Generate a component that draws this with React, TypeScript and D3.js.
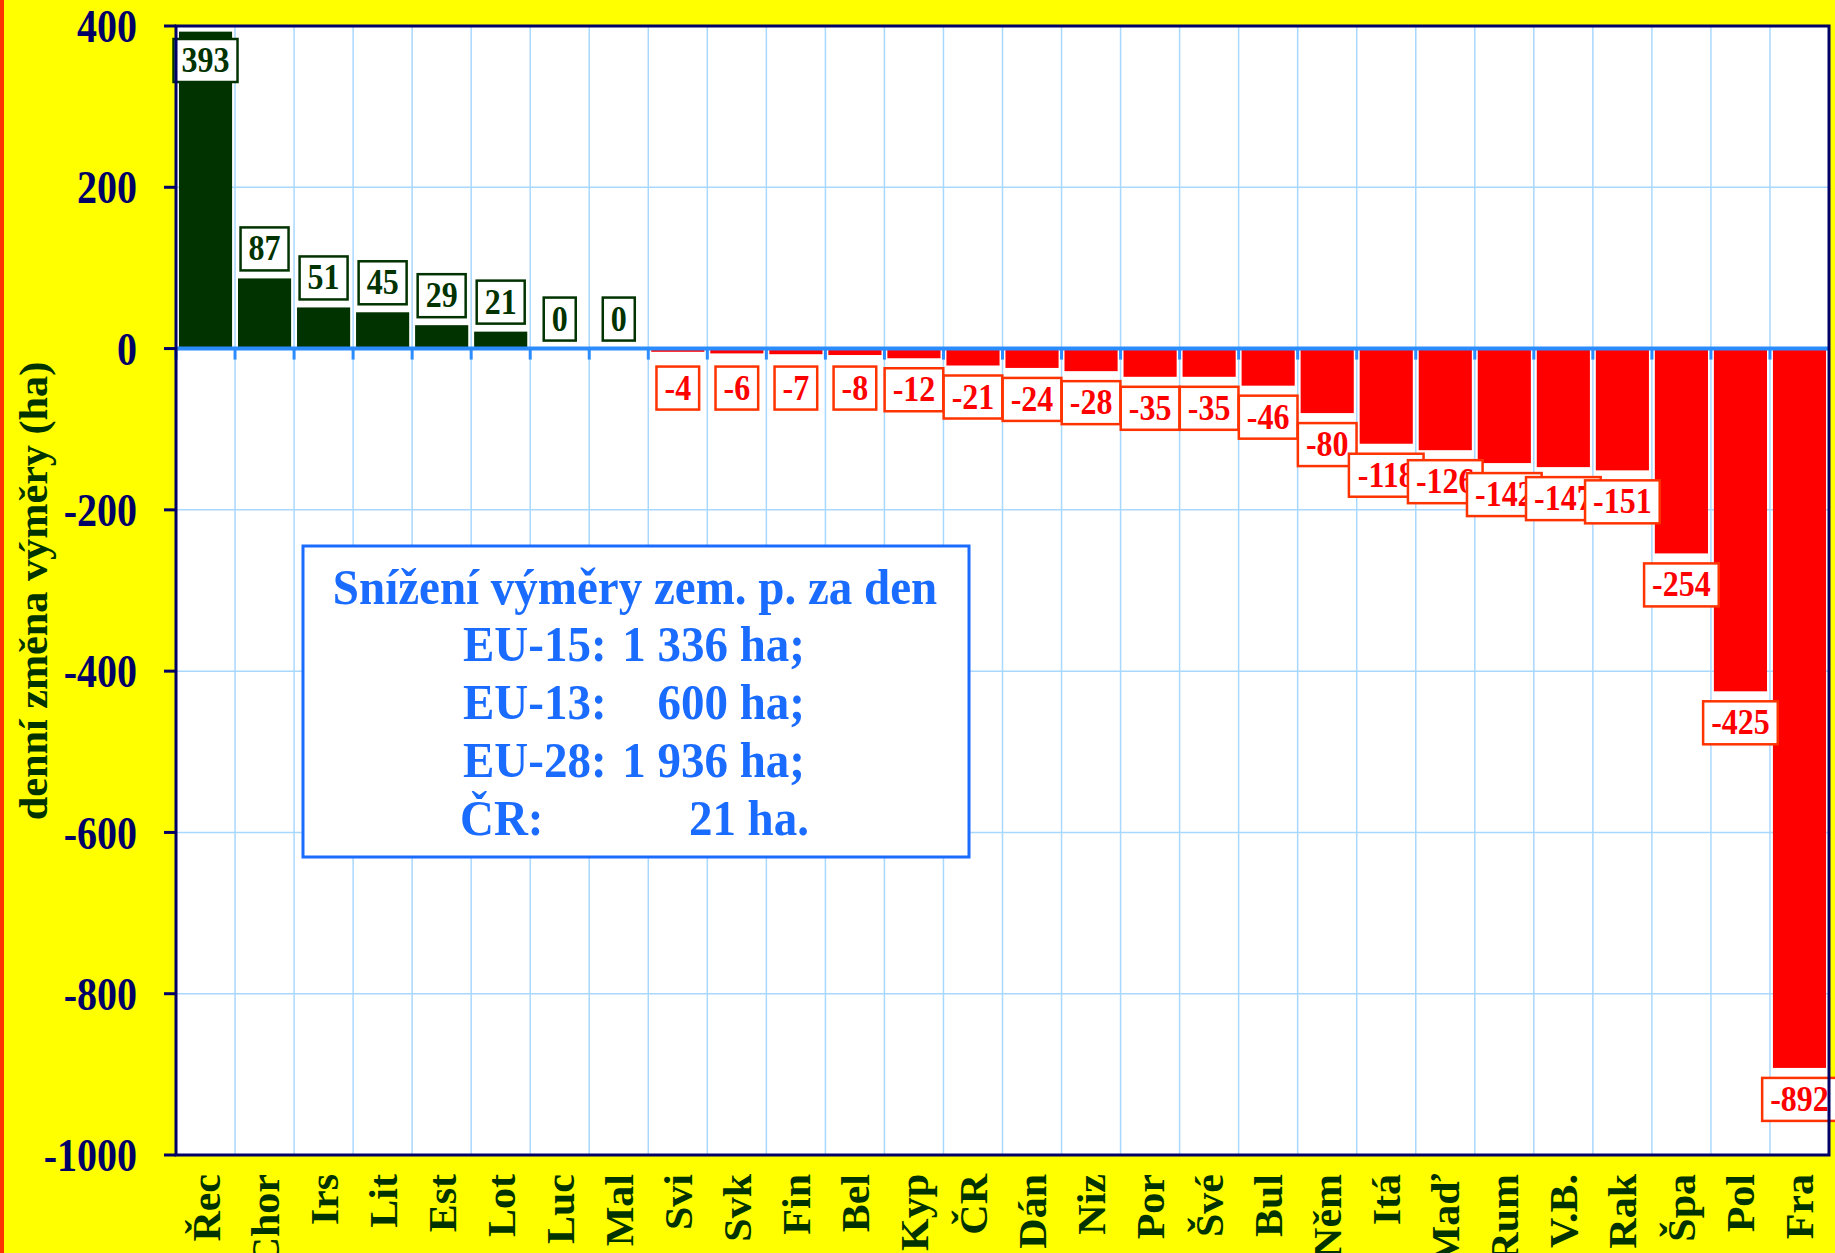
import React from "react";
import * as d3 from "d3";

const categories = ["Řec","Chor","Irs","Lit","Est","Lot","Luc","Mal","Svi","Svk","Fin","Bel","Kyp","ČR","Dán","Niz","Por","Švé","Bul","Něm","Itá","Maď","Rum","V.B.","Rak","Špa","Pol","Fra"];
const values = [393,87,51,45,29,21,0,0,-4,-6,-7,-8,-12,-21,-24,-28,-35,-35,-46,-80,-118,-126,-142,-147,-151,-254,-425,-892];
const yTicks = [400,200,0,-200,-400,-600,-800,-1000];
const yTitle = "denní změna výměry (ha)";
const infoTitle = "Snížení výměry zem. p. za den";
const infoLabels = ["EU-15:","EU-13:","EU-28:","ČR:"];
const infoValues = ["1 336 ha;","600 ha;","1 936 ha;","21 ha."];

const W = 1835, H = 1253;
const L = 176, R = 1829, T = 26, B = 1155;
const FONT = "'Liberation Serif','Times New Roman',serif";
const GREEN = "#003300", RED = "#ff0000", NAVY = "#000066", BLUE = "#1a6bff";

export default function App() {
  const x = d3.scaleBand<string>().domain(categories).range([L, R]).paddingInner(0.1).paddingOuter(0.05);
  const xb = d3.scaleLinear().domain([0, categories.length]).range([L, R]);
  const y = d3.scaleLinear().domain([-1000, 400]).range([B, T]);
  const y0 = y(0);
  const lf = 32;
  const labW = (s: string) => {
    let w = 0;
    for (const c of s) w += c === "-" ? 0.333 : 0.5;
    return w * lf + 16;
  };
  const boxH = 43;
  return (
    <svg width={W} height={H} style={{ position: "fixed", left: 0, top: 0 }} fontFamily={FONT}>
      <rect x={0} y={0} width={W} height={H} fill="#ffff00" />
      <rect x={0} y={0} width={4} height={H} fill="#ff3300" />
      <rect x={L} y={T} width={R - L} height={B - T} fill="#ffffff" />
      {d3.range(1, categories.length).map(i => (
        <line key={"v" + i} x1={xb(i)} x2={xb(i)} y1={T} y2={B} stroke="#a9d8ff" strokeWidth={1.5} />
      ))}
      {yTicks.filter(t => t !== 0 && t !== 400 && t !== -1000).map(t => (
        <line key={"h" + t} x1={L} x2={R} y1={y(t)} y2={y(t)} stroke="#a9d8ff" strokeWidth={1.5} />
      ))}
      {categories.map((c, i) => {
        const v = values[i];
        return (
          <rect key={"b" + c} x={x(c)} width={x.bandwidth()} y={v >= 0 ? y(v) : y0} height={Math.abs(y(v) - y0)} fill={v >= 0 ? GREEN : RED} />
        );
      })}
      <line x1={L} x2={R} y1={y0} y2={y0} stroke="#2b8cff" strokeWidth={4} />
      {d3.range(0, categories.length).map(i => (
        <line key={"zt" + i} x1={xb(i)} x2={xb(i)} y1={y0} y2={y0 + 11} stroke="#2b8cff" strokeWidth={3} />
      ))}
      {categories.map((c, i) => {
        const v = values[i];
        const s = String(v);
        const w = labW(s);
        const cx = (x(c) as number) + x.bandwidth() / 2;
        let top: number;
        if (v >= 0) {
          top = y(v) - 8 - boxH;
          if (top < T + 13) top = T + 13;
        } else {
          top = Math.max(y(v) + 10, y0 + 18);
        }
        const col = v >= 0 ? GREEN : RED;
        return (
          <g key={"l" + c}>
            <rect x={cx - w / 2} y={top} width={w} height={boxH} fill="#fff" stroke={v >= 0 ? GREEN : "#ff3300"} strokeWidth={2.5} />
            <text transform={`translate(${cx},${top + 33}) scale(1,1.15)`} textAnchor="middle" fontSize={lf} fontWeight="bold" fill={col}>{s}</text>
          </g>
        );
      })}
      <rect x={L} y={T} width={R - L} height={B - T} fill="none" stroke={NAVY} strokeWidth={3} />
      {yTicks.map(t => (
        <g key={"yt" + t}>
          <line x1={164} x2={L} y1={y(t)} y2={y(t)} stroke={NAVY} strokeWidth={3} />
          <text transform={`translate(137,${y(t)}) scale(1,1.15)`} dy="0.35em" textAnchor="end" fontSize={40} fontWeight="bold" fill={NAVY}>{t}</text>
        </g>
      ))}
      <text transform={`translate(33,591) rotate(-90) scale(1.03,1)`} dy="0.35em" textAnchor="middle" fontSize={41} fontWeight="bold" fill={GREEN}>{yTitle}</text>
      {categories.map(c => (
        <text key={"xl" + c} transform={`translate(${(x(c) as number) + x.bandwidth() / 2},1174) rotate(-90) scale(1.05,1)`} dy="0.35em" textAnchor="end" fontSize={40} fontWeight="bold" fill={GREEN}>{c}</text>
      ))}
      <rect x={303} y={546} width={666} height={311} fill="#fff" stroke={BLUE} strokeWidth={3} />
      <text transform={`translate(635,604) scale(1,1.08)`} textAnchor="middle" fontSize={47} fontWeight="bold" fill={BLUE}>{infoTitle}</text>
      {infoLabels.map((lab, i) => (
        <g key={"in" + i}>
          <text transform={`translate(${i === 3 ? 460 : 463},${661 + i * 58}) scale(1,1.08)`} fontSize={47} fontWeight="bold" fill={BLUE}>{lab}</text>
          <text transform={`translate(${i === 3 ? 809 : 805},${661 + i * 58}) scale(1,1.08)`} textAnchor="end" fontSize={47} fontWeight="bold" fill={BLUE}>{infoValues[i]}</text>
        </g>
      ))}
    </svg>
  );
}
